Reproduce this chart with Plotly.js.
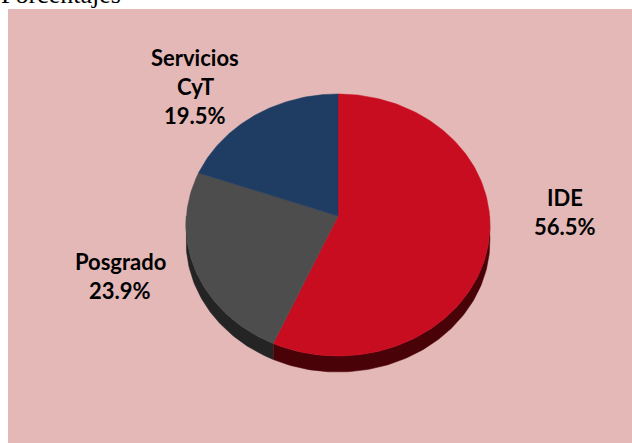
<!DOCTYPE html>
<html>
<head>
<meta charset="utf-8">
<script src="https://cdn.plot.ly/plotly-3.0.1.min.js"></script>
<style>html,body{margin:0;padding:0;background:#fff;overflow:hidden}</style>
</head>
<body>
<div id="chart" style="width:632px;height:443px"></div>
<script>
// Data
const categories = ["IDE", "Posgrado", "Servicios CyT"];
const shares = [56.5, 23.9, 19.5];
const labelLines = [["IDE"], ["Posgrado"], ["Servicios", "CyT"]];
const chartTitle = "Porcentajes";

// Styles
const topColors = ["#c90d20", "#4d4d4d", "#1f3d63"];
const wallColors = ["#4a0209", "#242424", "#14263e"];
const panelColor = "#e5b8b8";

// Tilted-disc projection, in pixels around the disc's centre point
const W = 632, H = 443, cx = 338, cy = 216;
const rx = 151.6, ry = 130.4, tilt = 0.0687, depth = 16;
const labelAnchors = [[565, 197], [120, 261], [195, 57]];
const lineStep = 29;

function project(turn) {
  const a = turn * 2 * Math.PI, u = Math.sin(a), v = Math.cos(a), w = 1 + tilt * v;
  return [rx * u / w, ry * v / w];
}
function arc(t0, t1) {
  const n = Math.max(2, Math.ceil(Math.abs(t1 - t0) * 360)), pts = [];
  for (let i = 0; i <= n; i++) pts.push(project(t0 + (t1 - t0) * i / n));
  return pts;
}
const total = shares.reduce((a, b) => a + b, 0);
let run = 0;
const spans = shares.map(s => { const t0 = run; run += s / total; return [t0, run]; });

const traces = [];
spans.forEach((sp, i) => {
  // side wall: only the part of the rim on the near half of the disc
  const a = Math.max(sp[0], 0.25), b = Math.min(sp[1], 0.75);
  if (b > a) {
    const rim = arc(a, b);
    const low = rim.slice().reverse().map(p => [p[0], p[1] - depth]);
    const poly = rim.concat(low);
    traces.push({
      type: "scatter", mode: "lines", fill: "toself", hoverinfo: "skip", showlegend: false,
      x: poly.map(p => p[0]), y: poly.map(p => p[1]),
      fillcolor: wallColors[i], line: {color: wallColors[i], width: 0.5}
    });
  }
});
spans.forEach((sp, i) => {
  const poly = [[0, 0]].concat(arc(sp[0], sp[1]), [[0, 0]]);
  traces.push({
    type: "scatter", mode: "lines", fill: "toself", showlegend: false,
    name: categories[i], hoverinfo: "name",
    x: poly.map(p => p[0]), y: poly.map(p => p[1]),
    fillcolor: topColors[i], line: {color: topColors[i], width: 0.5}
  });
});

const annotations = [{
  text: chartTitle, xref: "paper", yref: "paper", showarrow: false,
  x: 0, y: 1, xanchor: "left", yanchor: "bottom", yshift: -11, xshift: -1,
  font: {family: "Liberation Serif", size: 26, color: "#000"}
}];
labelLines.forEach((lines, i) => {
  const rows = lines.concat([shares[i].toFixed(1) + "%"]);
  rows.forEach((t, k) => annotations.push({
    text: t, showarrow: false, xref: "x", yref: "y",
    x: labelAnchors[i][0] - cx, y: cy - (labelAnchors[i][1] + k * lineStep),
    xanchor: "center", yanchor: "middle",
    font: {family: "Lato", size: 22, color: "#000", weight: 700}
  }));
});

const hidden = {visible: false, fixedrange: true};
Plotly.newPlot("chart", traces, {
  width: W, height: H, margin: {l: 0, r: 0, t: 0, b: 0},
  paper_bgcolor: "#fff", plot_bgcolor: "rgba(0,0,0,0)",
  xaxis: Object.assign({range: [-cx, W - cx]}, hidden),
  yaxis: Object.assign({range: [cy - H, cy]}, hidden),
  shapes: [{type: "rect", layer: "below", xref: "paper", yref: "paper",
    x0: 8 / W, x1: 1, y0: 0, y1: 1 - 9 / H, fillcolor: panelColor, line: {width: 0}}],
  annotations: annotations
}, {displayModeBar: false, staticPlot: true});
</script>
</body>
</html>
